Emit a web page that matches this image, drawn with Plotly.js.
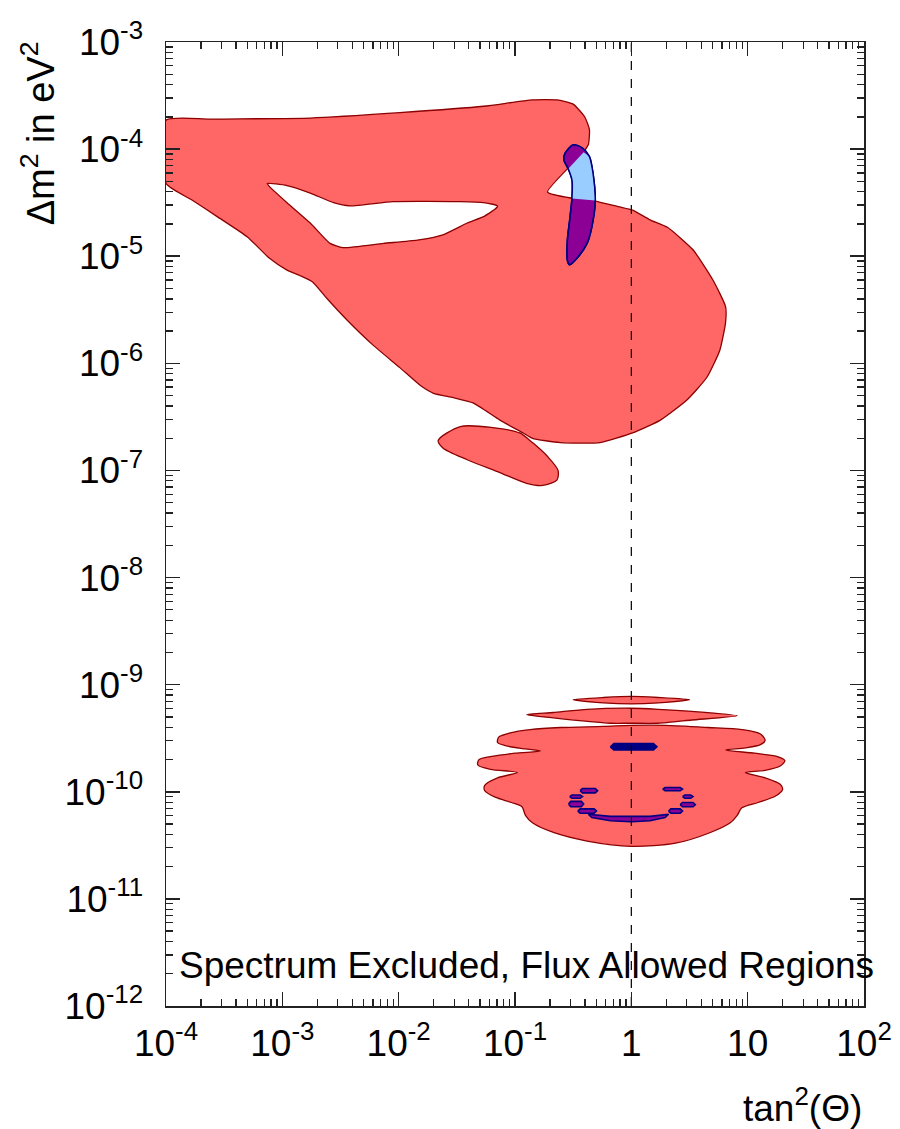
<!DOCTYPE html>
<html>
<head>
<meta charset="utf-8">
<script src="https://cdn.plot.ly/plotly-3.0.1.min.js"></script>
<style>html,body{margin:0;padding:0;background:#fff;}#chart{width:900px;height:1129px;}</style>
</head>
<body>
<div id="chart"></div>
<script>
// All contour vertices are given as log10 values: x = log10(tan^2 Theta), y = log10(dm^2 / eV^2)

// Main red allowed region (LMA + SMA + LOW band)
const mainLogX = [-4.00,-3.62,-2.76,-1.99,-1.27,-0.85,-0.64,-0.50,-0.40,-0.36,-0.37,-0.42,-0.72,-0.50,-0.33,-0.10,0.01,0.16,0.31,0.53,0.70,0.81,0.81,0.76,0.65,0.48,0.25,0.01,-0.27,-0.61,-0.85,-0.93,-1.13,-1.36,-1.53,-1.70,-1.81,-1.99,-2.22,-2.44,-2.62,-2.74,-2.85,-2.96,-3.11,-3.30,-3.56,-3.77,-4.00,-4.00];
const mainLogY = [-3.73,-3.72,-3.71,-3.66,-3.60,-3.54,-3.54,-3.58,-3.70,-3.82,-3.96,-4.04,-4.40,-4.46,-4.48,-4.54,-4.57,-4.66,-4.73,-4.94,-5.22,-5.47,-5.62,-5.88,-6.13,-6.34,-6.53,-6.65,-6.74,-6.74,-6.70,-6.65,-6.53,-6.37,-6.32,-6.28,-6.21,-6.04,-5.83,-5.60,-5.39,-5.24,-5.18,-5.13,-5.02,-4.82,-4.63,-4.48,-4.32,-3.73];

// Excluded hole inside the main region
const holeLogX = [-3.13,-2.96,-2.76,-2.56,-2.42,-2.05,-1.47,-1.27,-1.15,-1.17,-1.27,-1.41,-1.62,-1.84,-2.13,-2.48,-2.59,-2.76,-2.96,-3.11,-3.13];
const holeLogY = [-4.32,-4.34,-4.41,-4.50,-4.53,-4.49,-4.49,-4.50,-4.53,-4.56,-4.63,-4.69,-4.80,-4.85,-4.88,-4.92,-4.88,-4.69,-4.50,-4.35,-4.32];

// Small LOW island below the main region
const lowLogX = [-1.66,-1.47,-1.19,-0.96,-0.85,-0.72,-0.63,-0.64,-0.76,-0.90,-1.13,-1.41,-1.62,-1.66];
const lowLogY = [-6.72,-6.59,-6.60,-6.65,-6.74,-6.87,-7.00,-7.09,-7.14,-7.12,-7.02,-6.90,-6.79,-6.72];

// Blue crescent (flux allowed)
const cresLogX = [-0.57,-0.50,-0.42,-0.36,-0.33,-0.31,-0.34,-0.38,-0.46,-0.53,-0.55,-0.55,-0.53,-0.51,-0.51,-0.54,-0.58,-0.57];
const cresLogY = [-4.04,-3.96,-3.99,-4.07,-4.22,-4.49,-4.73,-4.88,-5.01,-5.08,-5.04,-4.85,-4.66,-4.45,-4.29,-4.19,-4.10,-4.04];

// Part of the crescent outside the red region
const cresOutLogX = [-0.41,-0.36,-0.33,-0.31,-0.51,-0.51,-0.54,-0.41];
const cresOutLogY = [-4.03,-4.07,-4.22,-4.48,-4.46,-4.29,-4.18,-4.03];

// Vacuum region: two thin strips and the wavy main lobe
const strip1LogX = [-0.50,-0.24,0.00,0.23,0.50,0.23,0.00,-0.24,-0.50];
const strip1LogY = [-9.14,-9.12,-9.11,-9.12,-9.14,-9.17,-9.18,-9.17,-9.14];
const strip2LogX = [-0.90,-0.67,-0.38,0.00,0.23,0.52,0.91,0.52,0.23,0.00,-0.18,-0.67,-0.90];
const strip2LogY = [-9.28,-9.26,-9.23,-9.22,-9.23,-9.25,-9.29,-9.33,-9.36,-9.36,-9.36,-9.31,-9.28];
const vacLogX = [0.00,-0.24,-0.61,-0.87,-1.04,-1.14,-1.15,-1.08,-0.91,-0.78,-1.00,-1.20,-1.31,-1.32,-1.21,-0.98,-1.15,-1.26,-1.26,-1.17,-1.03,-0.94,-0.91,-0.85,-0.67,-0.38,0.00,0.38,0.68,0.85,0.91,0.95,1.09,1.24,1.30,1.28,1.15,0.98,1.15,1.28,1.32,1.25,1.06,0.81,0.98,1.11,1.15,1.11,0.95,0.66,0.29,0.00];
const vacLogY = [-9.38,-9.39,-9.40,-9.42,-9.45,-9.49,-9.54,-9.57,-9.60,-9.62,-9.64,-9.67,-9.70,-9.75,-9.79,-9.82,-9.87,-9.94,-9.99,-10.05,-10.10,-10.14,-10.22,-10.29,-10.38,-10.46,-10.51,-10.48,-10.38,-10.29,-10.22,-10.15,-10.10,-10.04,-9.98,-9.93,-9.87,-9.82,-9.80,-9.76,-9.71,-9.67,-9.64,-9.61,-9.59,-9.56,-9.52,-9.46,-9.42,-9.40,-9.38,-9.38];

// Small flux-allowed islands inside the vacuum region (null separates islands)
const vacBlueLogX = [
  -0.44,-0.42,-0.31,-0.29,-0.31,-0.42,-0.44,null,
  -0.53,-0.51,-0.44,-0.42,-0.44,-0.51,-0.53,null,
  -0.54,-0.52,-0.43,-0.41,-0.43,-0.52,-0.54,null,
  -0.46,-0.44,-0.32,-0.30,-0.32,-0.44,-0.46,null,
  -0.37,-0.18,0.00,0.16,0.32,0.29,0.16,0.00,-0.18,-0.34,-0.37,null,
  0.27,0.29,0.42,0.44,0.42,0.29,0.27,null,
  0.44,0.46,0.51,0.53,0.51,0.46,0.44,null,
  0.42,0.44,0.53,0.55,0.53,0.44,0.42,null,
  0.32,0.34,0.42,0.44,0.42,0.34,0.32];
const vacBlueLogY = [
  -9.99,-9.97,-9.97,-9.99,-10.01,-10.01,-9.99,null,
  -10.045,-10.03,-10.03,-10.045,-10.06,-10.06,-10.045,null,
  -10.115,-10.09,-10.09,-10.115,-10.14,-10.14,-10.115,null,
  -10.18,-10.16,-10.16,-10.18,-10.20,-10.20,-10.18,null,
  -10.21,-10.23,-10.23,-10.23,-10.21,-10.24,-10.27,-10.28,-10.27,-10.24,-10.21,null,
  -9.975,-9.96,-9.96,-9.975,-9.99,-9.99,-9.975,null,
  -10.045,-10.03,-10.03,-10.045,-10.06,-10.06,-10.045,null,
  -10.12,-10.10,-10.10,-10.12,-10.14,-10.14,-10.12,null,
  -10.18,-10.16,-10.16,-10.18,-10.20,-10.20,-10.18];
// Central flux-allowed bar at maximal mixing
const vacBarLogX = [-0.18,-0.15,0.00,0.19,0.22,0.19,0.00,-0.15,-0.18];
const vacBarLogY = [-9.58,-9.55,-9.55,-9.55,-9.58,-9.61,-9.61,-9.61,-9.58];

// Maximal mixing reference line
const refLineX = [1, 1];
const refLineY = [1e-12, 1e-3];

// Tick labels
const xTickVals = [1e-4, 1e-3, 1e-2, 1e-1, 1, 10, 100];
const xTickText = ['10<sup>-4</sup>','10<sup>-3</sup>','10<sup>-2</sup>','10<sup>-1</sup>','1','10','10<sup>2</sup>'];
const yTickVals = [1e-12,1e-11,1e-10,1e-9,1e-8,1e-7,1e-6,1e-5,1e-4,1e-3];
const yTickText = ['10<sup>-12</sup>','10<sup>-11</sup>','10<sup>-10</sup>','10<sup>-9</sup>','10<sup>-8</sup>','10<sup>-7</sup>','10<sup>-6</sup>','10<sup>-5</sup>','10<sup>-4</sup>','10<sup>-3</sup>'];

const p10 = a => a.map(v => v === null ? null : Math.pow(10, v));
function minorVals(d0, d1) { const out = []; for (let d = d0; d < d1; d++) for (let k = 2; k <= 9; k++) out.push(k * Math.pow(10, d)); return out; }

const RED = 'rgb(255,102,102)', DARKRED = 'rgb(140,0,0)', PURPLE = 'rgb(140,0,150)', LIGHTBLUE = 'rgb(153,204,255)', NAVY = 'rgb(0,0,128)';

const traces = [
  {x: p10(mainLogX), y: p10(mainLogY), type:'scatter', mode:'lines', fill:'toself', fillcolor:RED, line:{color:DARKRED, width:1.3, shape:'spline', smoothing:0.5}, hoverinfo:'skip'},
  {x: p10(lowLogX), y: p10(lowLogY), type:'scatter', mode:'lines', fill:'toself', fillcolor:RED, line:{color:DARKRED, width:1.3, shape:'spline', smoothing:0.8}, hoverinfo:'skip'},
  {x: p10(holeLogX), y: p10(holeLogY), type:'scatter', mode:'lines', fill:'toself', fillcolor:'white', line:{color:DARKRED, width:1.3, shape:'spline', smoothing:0.5}, hoverinfo:'skip'},
  {x: p10(cresLogX), y: p10(cresLogY), type:'scatter', mode:'lines', fill:'toself', fillcolor:PURPLE, line:{color:NAVY, width:1.5, shape:'spline', smoothing:0.8}, hoverinfo:'skip'},
  {x: p10(cresOutLogX), y: p10(cresOutLogY), type:'scatter', mode:'lines', fill:'toself', fillcolor:LIGHTBLUE, line:{color:'rgba(0,0,0,0)', width:0}, hoverinfo:'skip'},
  {x: p10(cresLogX), y: p10(cresLogY), type:'scatter', mode:'lines', line:{color:NAVY, width:1.5, shape:'spline', smoothing:0.8}, hoverinfo:'skip'},
  {x: p10(vacLogX), y: p10(vacLogY), type:'scatter', mode:'lines', fill:'toself', fillcolor:RED, line:{color:DARKRED, width:1.3, shape:'spline', smoothing:0.8}, hoverinfo:'skip'},
  {x: p10(strip2LogX), y: p10(strip2LogY), type:'scatter', mode:'lines', fill:'toself', fillcolor:RED, line:{color:DARKRED, width:1.3, shape:'spline', smoothing:0.6}, hoverinfo:'skip'},
  {x: p10(strip1LogX), y: p10(strip1LogY), type:'scatter', mode:'lines', fill:'toself', fillcolor:RED, line:{color:DARKRED, width:1.3, shape:'spline', smoothing:0.6}, hoverinfo:'skip'},
  {x: p10(vacBlueLogX), y: p10(vacBlueLogY), type:'scatter', mode:'lines', fill:'toself', fillcolor:PURPLE, line:{color:NAVY, width:1.6}, connectgaps:false, hoverinfo:'skip'},
  {x: p10(vacBarLogX), y: p10(vacBarLogY), type:'scatter', mode:'lines', fill:'toself', fillcolor:NAVY, line:{color:NAVY, width:1.6}, hoverinfo:'skip'},
  {x: refLineX, y: refLineY, type:'scatter', mode:'lines', line:{color:'black', width:1.2, dash:'dash'}, hoverinfo:'skip'}
];

const FONT = 'Liberation Sans, Arial, Helvetica, sans-serif';
const axisCommon = {
  type:'log', showgrid:false, zeroline:false, showline:true, linecolor:'#222', linewidth:1.5,
  ticks:'inside', ticklen:14, tickwidth:1.5, tickcolor:'#222', mirror:'ticks',
  tickmode:'array', tickfont:{family:FONT, size:37, color:'black'}
};

const layout = {
  width:900, height:1129,
  margin:{l:166, r:36, t:42, b:123},
  paper_bgcolor:'white', plot_bgcolor:'white',
  showlegend:false,
  font:{family:FONT, color:'black'},
  xaxis: Object.assign({}, axisCommon, {
    range:[-4, 2], tickvals:xTickVals, ticktext:xTickText, ticklabelstandoff:4,
    minor:{tickmode:'array', tickvals:minorVals(-4, 2), ticks:'inside', ticklen:7, tickwidth:1.3, tickcolor:'#222', showgrid:false}
  }),
  yaxis: Object.assign({}, axisCommon, {
    range:[-12, -3], tickvals:yTickVals, ticktext:yTickText, ticklabelstandoff:14,
    minor:{tickmode:'array', tickvals:minorVals(-12, -3), ticks:'inside', ticklen:7, tickwidth:1.3, tickcolor:'#222', showgrid:false}
  }),
  annotations:[
    {text:'Δm<sup>2</sup> in eV<sup>2</sup>', xref:'paper', yref:'paper', x:-0.183, y:1.003, xanchor:'center', yanchor:'top', textangle:-90, showarrow:false, font:{family:FONT, size:38, color:'black'}},
    {text:'tan<sup>2</sup>(Θ)', xref:'paper', yref:'paper', x:1.0, y:-0.103, xanchor:'right', yanchor:'middle', showarrow:false, font:{family:FONT, size:37, color:'black'}},
    {text:'Spectrum Excluded, Flux Allowed Regions', xref:'paper', yref:'paper', x:0.016, y:0.0415, xanchor:'left', yanchor:'middle', showarrow:false, font:{family:FONT, size:37, color:'black'}}
  ]
};

Plotly.newPlot('chart', traces, layout, {staticPlot:true, displayModeBar:false});
</script>
</body>
</html>
